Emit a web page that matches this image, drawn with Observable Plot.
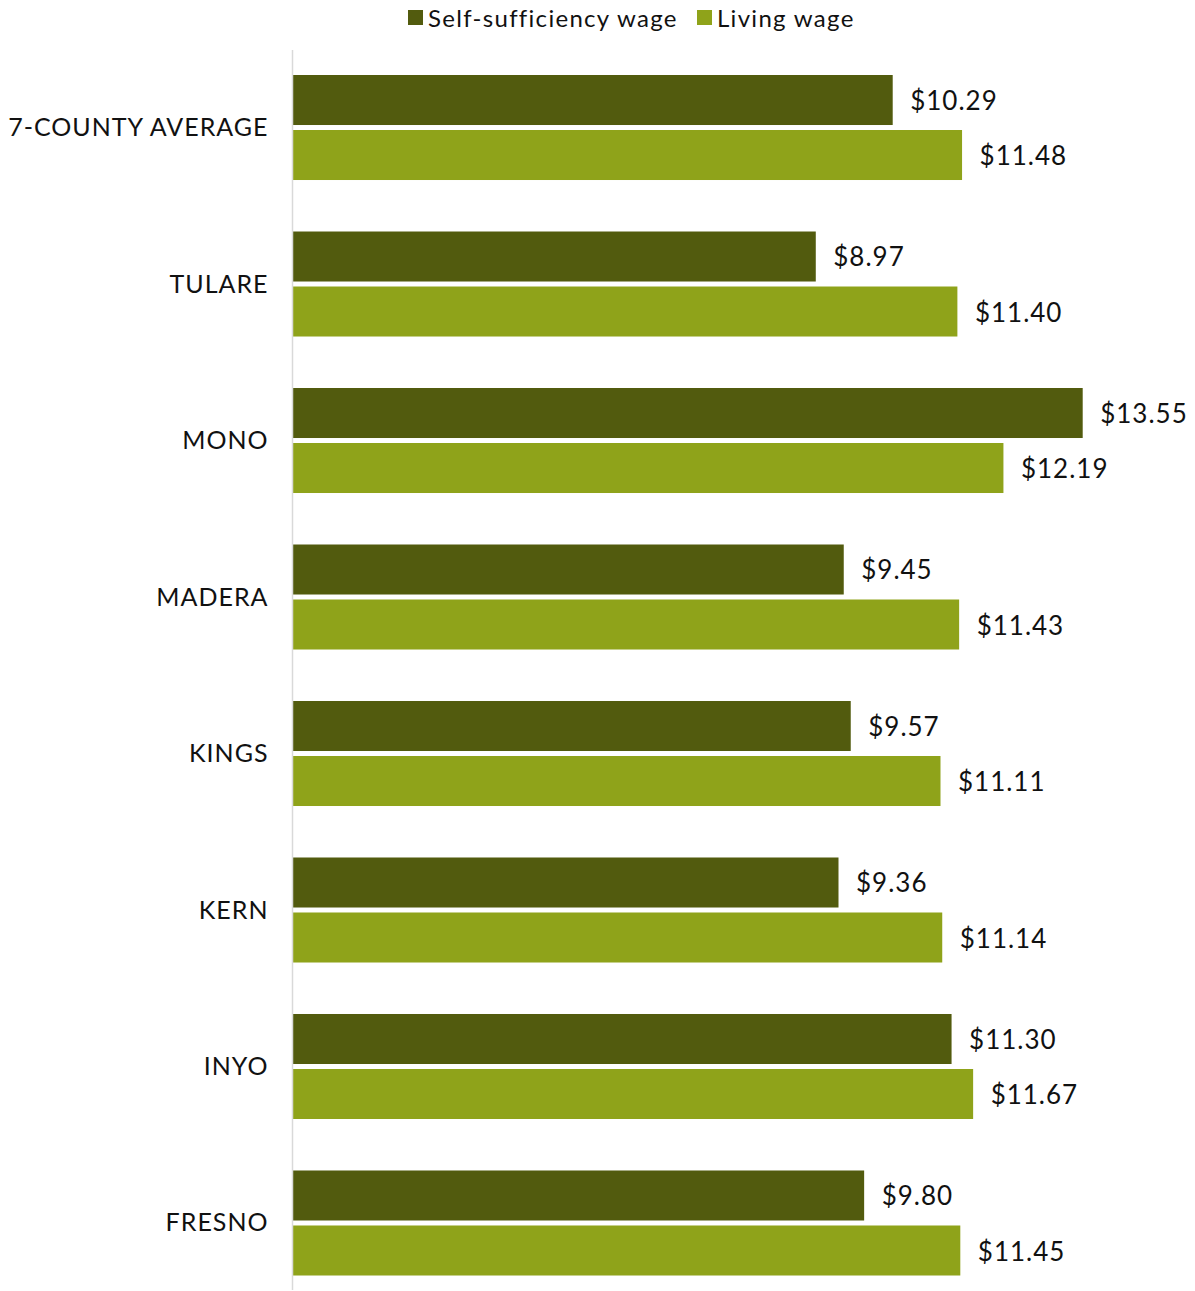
<!DOCTYPE html>
<html>
<head>
<meta charset="utf-8">
<script src="https://cdn.jsdelivr.net/npm/d3@7"></script>
<script src="https://cdn.jsdelivr.net/npm/@observablehq/plot@0.6"></script>
<style>
  html, body { margin: 0; padding: 0; background: #fff; }
  body { width: 1195px; font-family: Lato, "Open Sans", sans-serif; }
  #legend { height: 40px; position: relative; font-size: 24px; letter-spacing: 1.3px; color: #111; }
  .item { position: absolute; top: -2px; height: 38px; display: flex; align-items: center; }
  .sw { width: 15px; height: 15px; margin-right: 5px; }
  #chart svg { display: block; }
  #chart svg text { letter-spacing: 1px; }
</style>
</head>
<body>
<div id="legend"></div>
<div id="chart"></div>
<script>
const counties = ["7-COUNTY AVERAGE", "TULARE", "MONO", "MADERA", "KINGS", "KERN", "INYO", "FRESNO"];
const selfSufficiency = [10.29, 8.97, 13.55, 9.45, 9.57, 9.36, 11.30, 9.80];
const livingWage = [11.48, 11.40, 12.19, 11.43, 11.11, 11.14, 11.67, 11.45];
const seriesNames = ["Self-sufficiency wage", "Living wage"];
const seriesColors = ["#525b0e", "#8fa31a"];

const selfData = counties.map((c, i) => ({county: c, value: selfSufficiency[i]}));
const livingData = counties.map((c, i) => ({county: c, value: livingWage[i]}));

// legend
const legend = document.getElementById("legend");
const legendLefts = [408, 697];
seriesNames.forEach((name, i) => {
  const it = document.createElement("div");
  it.className = "item";
  it.style.left = legendLefts[i] + "px";
  it.innerHTML = `<span class="sw" style="background:${seriesColors[i]}"></span><span>${name}</span>`;
  legend.appendChild(it);
});

const fmt = d => "$" + d.value.toFixed(2);

const chart = Plot.plot({
  width: 1195,
  height: 1251,
  marginLeft: 293,
  marginRight: 0,
  marginTop: 10,
  marginBottom: 1,
  style: {fontFamily: "Lato, 'Open Sans', sans-serif", color: "#111", background: "#fff"},
  x: {domain: [0, 15.477], axis: null},
  y: {domain: counties, paddingInner: 0.329, paddingOuter: 0.1262, align: 0.633, round: false, label: null},
  marks: [
    Plot.barX(selfData, {x: "value", y: "county", fill: seriesColors[0], insetBottom: 55}),
    Plot.barX(livingData, {x: "value", y: "county", fill: seriesColors[1], insetTop: 55}),
    Plot.text(selfData, {x: "value", y: "county", text: fmt, dx: 17, dy: -26.5, textAnchor: "start", fontSize: 26, fill: "#111"}),
    Plot.text(livingData, {x: "value", y: "county", text: fmt, dx: 17, dy: 29, textAnchor: "start", fontSize: 26, fill: "#111"}),
    Plot.ruleX([0], {stroke: "#d9d9d9", strokeWidth: 1.5, dx: -1}),
    Plot.axisY({tickSize: 0, tickPadding: 25, fontSize: 25, label: null})
  ]
});
document.getElementById("chart").appendChild(chart);
</script>
</body>
</html>
